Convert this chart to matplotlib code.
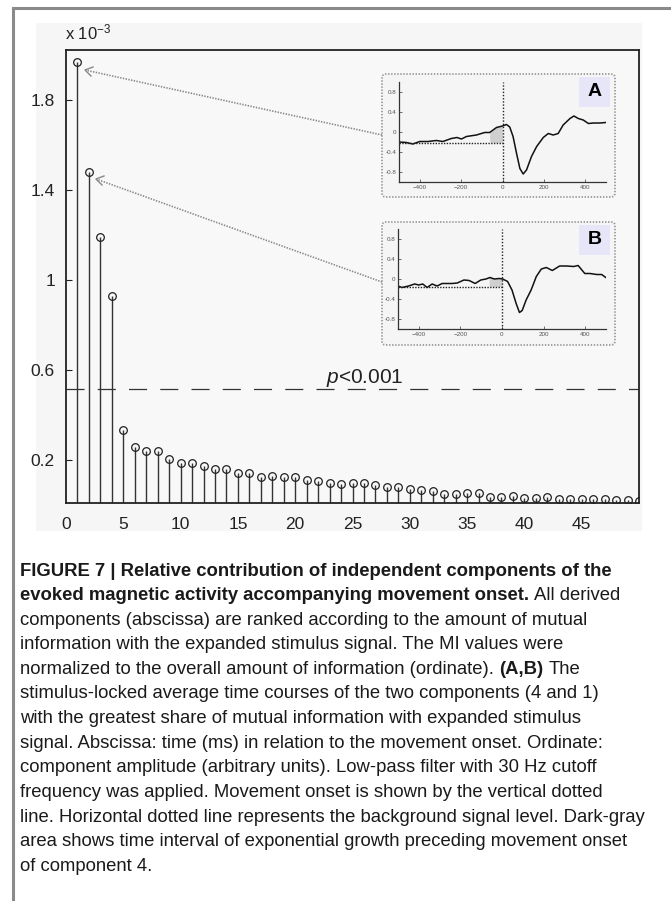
import numpy as np
import matplotlib.pyplot as plt
from matplotlib import font_manager
from matplotlib.patches import FancyBboxPatch, Rectangle

W, H = 671, 901
DPI = 100

# mutual information of each component (units of 1e-3)
components = np.arange(1, 51)
mi_values = [1.97, 1.48, 1.19, 0.93, 0.333, 0.258, 0.241, 0.240, 0.204, 0.188,
             0.188, 0.175, 0.160, 0.160, 0.142, 0.142, 0.124, 0.128, 0.124, 0.124,
             0.111, 0.107, 0.099, 0.095, 0.098, 0.098, 0.089, 0.081, 0.080, 0.071,
             0.067, 0.063, 0.049, 0.049, 0.052, 0.053, 0.037, 0.037, 0.040, 0.033,
             0.033, 0.036, 0.025, 0.025, 0.025, 0.025, 0.025, 0.024, 0.022, 0.020]
p_level = 0.515
ytick_vals = [0.2, 0.6, 1.0, 1.4, 1.8]
ytick_labels = ["0.2", "0.6", "1", "1.4", "1.8"]
xtick_vals = [0, 5, 10, 15, 20, 25, 30, 35, 40, 45]

# averaged time courses (ms, arbitrary units)
t_a = [-500, -465, -433, -400, -360, -320, -288, -247, -220, -198, -174, -126, -86, -62,
       -29, 0, 19, 35, 51, 68, 84, 100, 116, 140, 165, 197, 221, 245, 269, 293, 326,
       345, 366, 390, 415, 439, 471, 499]
amp_a = [-0.20, -0.21, -0.24, -0.19, -0.19, -0.17, -0.19, -0.13, -0.11, -0.14, -0.09,
         -0.06, -0.01, -0.01, 0.09, 0.12, 0.15, 0.10, -0.09, -0.43, -0.73, -0.84, -0.76,
         -0.49, -0.29, -0.11, -0.03, -0.06, -0.03, 0.14, 0.27, 0.32, 0.27, 0.24, 0.17,
         0.18, 0.18, 0.19]
base_a = -0.21

t_b = [-500, -481, -449, -420, -400, -381, -360, -336, -312, -288, -239, -215, -183,
       -158, -129, -102, -77, -58, -37, -13, 3, 27, 48, 68, 84, 97, 116, 140, 165, 189,
       213, 242, 277, 310, 345, 366, 398, 423, 455, 479, 499]
amp_b = [-0.14, -0.17, -0.14, -0.10, -0.12, -0.10, -0.17, -0.10, -0.14, -0.09, -0.09,
         -0.08, -0.02, -0.03, -0.09, -0.02, 0.00, 0.03, 0.00, 0.01, 0.00, -0.05, -0.22,
         -0.49, -0.67, -0.63, -0.42, -0.22, 0.05, 0.20, 0.23, 0.17, 0.26, 0.26, 0.25,
         0.27, 0.11, 0.11, 0.09, 0.09, 0.03]
base_b = -0.15
growth_start = -62

caption = [
    [("FIGURE 7 | Relative contribution of independent components of the", True)],
    [("evoked magnetic activity accompanying movement onset.", True), ("All derived", False)],
    [("components (abscissa) are ranked according to the amount of mutual", False)],
    [("information with the expanded stimulus signal. The MI values were", False)],
    [("normalized to the overall amount of information (ordinate).", False), ("(A,B)", True), ("The", False)],
    [("stimulus-locked average time courses of the two components (4 and 1)", False)],
    [("with the greatest share of mutual information with expanded stimulus", False)],
    [("signal. Abscissa: time (ms) in relation to the movement onset. Ordinate:", False)],
    [("component amplitude (arbitrary units). Low-pass filter with 30 Hz cutoff", False)],
    [("frequency was applied. Movement onset is shown by the vertical dotted", False)],
    [("line. Horizontal dotted line represents the background signal level. Dark-gray", False)],
    [("area shows time interval of exponential growth preceding movement onset", False)],
    [("of component 4.", False)],
]

installed = {f.name for f in font_manager.fontManager.ttflist}
narrow = "Liberation Sans Narrow" if "Liberation Sans Narrow" in installed else "Liberation Sans"
plt.rcParams["font.family"] = [narrow, "DejaVu Sans"]
plt.rcParams["mathtext.fontset"] = "custom"
plt.rcParams["mathtext.rm"] = "Liberation Sans"
plt.rcParams["mathtext.it"] = "Liberation Sans:italic"
plt.rcParams["lines.scale_dashes"] = False


def fx(x):
    return x / W


def fy(y):
    return 1 - y / H


def rect(l, t, r, b):
    return [fx(l), fy(b), (r - l) / W, (b - t) / H]


def inch(x, y):
    return (x / DPI, (H - y) / DPI)


fig = plt.figure(figsize=(W / DPI, H / DPI), dpi=DPI, facecolor="white")

# outer frame of the figure panel
fig.add_artist(plt.Line2D([fx(13), fx(13)], [fy(8), 0], color="#8a8a8a", lw=2.2))
fig.add_artist(plt.Line2D([fx(13), 1], [fy(8), fy(8)], color="#8a8a8a", lw=2.2))
fig.add_artist(Rectangle((fx(36), fy(531)), fx(642 - 36), (531 - 23) / H, zorder=-5,
                         transform=fig.transFigure, facecolor="#f6f6f6", edgecolor="none"))

# main stem plot
ax = fig.add_axes(rect(66, 50, 639, 503))
ax.set_facecolor("#f8f8f8")
ax.vlines(components, 0, mi_values, color="#333333", lw=1.0)
ax.plot(components, mi_values, "o", ms=5.5, mfc="none", mec="#222222", mew=0.9)
ax.axhline(p_level, color="#333333", lw=0.9, dashes=(13, 9.5))
ax.set_xlim(0, 50)
ax.set_ylim(0.009, 2.022)
ax.set_xticks(xtick_vals)
ax.set_xticklabels([str(v) for v in xtick_vals])
ax.set_yticks(ytick_vals)
ax.set_yticklabels(ytick_labels)
ax.tick_params(direction="in", length=4, width=0.8, labelsize=12.5, colors="#222222", pad=8)
ax.tick_params(axis="x", length=0, pad=10)
for s in ax.spines.values():
    s.set_linewidth(1.3)
    s.set_color("#222222")
ax.text(-0.1, 2.10, r"x 10$^{\mathregular{-3}}$", fontsize=12, ha="left", va="center",
        color="#222222")
ax.text(22.7, 0.565, r"$p$<0.001", fontsize=15, ha="left", va="center", color="#222222")


def inset(box, axbox, label, t, amp, base):
    l, t0, r, b = box
    fig.add_artist(FancyBboxPatch(inch(l, b), (r - l) / DPI, (b - t0) / DPI,
                                  boxstyle="round,pad=0,rounding_size=0.04", zorder=1,
                                  transform=fig.dpi_scale_trans, facecolor="#f5f5f5",
                                  edgecolor="#999999", lw=1.3, ls=(0, (1, 1.2))))
    iax = fig.add_axes(rect(*axbox))
    iax.set_zorder(2)
    iax.patch.set_alpha(0)
    iax.plot(t, amp, color="#111111", lw=1.1)
    iax.plot([-500, 0], [base, base], color="#222222", lw=1.0, ls=(0, (1, 1)))
    iax.axvline(0, color="#222222", lw=1.0, ls=(0, (1, 1.3)))
    tt = np.array(t, float)
    aa = np.array(amp, float)
    m = (tt >= growth_start) & (tt <= 0)
    xs = np.concatenate([[growth_start], tt[m], [0]])
    ys = np.concatenate([[np.interp(growth_start, tt, aa)], aa[m], [np.interp(0, tt, aa)]])
    iax.fill_between(xs, base, ys, color="#cfcfcf", lw=0)
    iax.set_xlim(-500, 500)
    iax.set_ylim(-1, 1)
    iax.set_xticks([-400, -200, 0, 200, 400])
    iax.set_yticks([-0.8, -0.4, 0, 0.4, 0.8])
    iax.set_yticklabels(["-0.8", "-0.4", "0", "0.4", "0.8"])
    iax.tick_params(direction="in", length=2, width=0.6, labelsize=4.5, colors="#555555", pad=2)
    iax.spines["top"].set_visible(False)
    iax.spines["right"].set_visible(False)
    for s in ("left", "bottom"):
        iax.spines[s].set_linewidth(0.9)
        iax.spines[s].set_color("#333333")
    lb = box[1] + 3
    fig.add_artist(Rectangle((fx(579), fy(lb + 30)), fx(31), 30 / H, transform=fig.transFigure,
                             facecolor="#e6e6f8", edgecolor="none", zorder=3))
    fig.text(fx(594.5), fy(lb + 15), label, fontsize=14, fontweight="bold", zorder=4,
             ha="center", va="center", family=["Liberation Sans", "DejaVu Sans"])


inset((382, 74, 615, 197), (399, 82, 606, 182), "A", t_a, amp_a, base_a)
inset((382, 222, 615, 345), (398, 229, 606, 329), "B", t_b, amp_b, base_b)

# dotted pointers from the insets to their components
for tail, head in [((382, 135), (85, 70)), ((382, 282), (96, 179))]:
    fig.add_artist(plt.Line2D([fx(tail[0]), fx(head[0])], [fy(tail[1]), fy(head[1])],
                              color="#888888", lw=1.2, ls=(0, (1, 1)), zorder=3))
    fig.add_artist(plt.Line2D([fx(head[0] + 8), fx(head[0]), fx(head[0] + 6)],
                              [fy(head[1] - 3), fy(head[1]), fy(head[1] + 6)],
                              color="#888888", lw=1.0, zorder=3))

# caption, laid out run by run
renderer = fig.canvas.get_renderer()
cap_size = 13.3


def width_of(s, bold):
    tmp = fig.text(0, 0, s, fontsize=cap_size, fontweight="bold" if bold else "normal")
    w = tmp.get_window_extent(renderer).width
    tmp.remove()
    return w


space = width_of("a a", False) - width_of("aa", False)
y0, step = 571, 24.6
for i, runs in enumerate(caption):
    x = 20
    for s, bold in runs:
        t = fig.text(fx(x), fy(y0 + i * step), s, fontsize=cap_size, va="center", ha="left",
                     fontweight="bold" if bold else "normal", color="#1a1a1a")
        x += t.get_window_extent(renderer).width + space

fig.savefig("out.png", dpi=DPI, facecolor="white")
